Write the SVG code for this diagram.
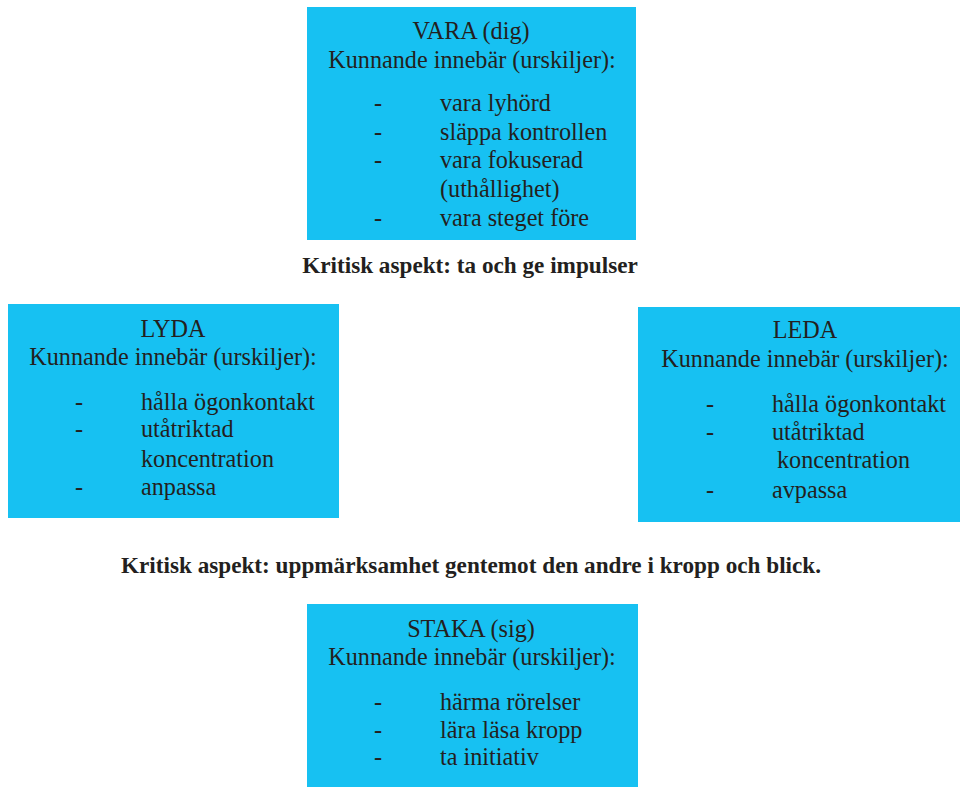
<svg xmlns="http://www.w3.org/2000/svg" width="960" height="787" viewBox="0 0 960 787">
<style>
.box{fill:#17c1f2}
text{font-family:"Liberation Serif","Times New Roman",serif;fill:#231f20}
.t{font-size:24.2px}
.c{text-anchor:middle}
.b{font-size:23.2px;font-weight:bold;text-anchor:middle}
</style>
<rect width="960" height="787" fill="#ffffff"/>
<g id="vara">
<rect class="box" x="307" y="7" width="329" height="233"/>
<text class="t c" x="471" y="39">VARA (dig)</text>
<text class="t c" x="472" y="68">Kunnande innebär (urskiljer):</text>
<text class="t" x="374" y="111">-</text><text class="t" x="440" y="111">vara lyhörd</text>
<text class="t" x="374" y="140">-</text><text class="t" x="440" y="140">släppa kontrollen</text>
<text class="t" x="374" y="168">-</text><text class="t" x="440" y="168">vara fokuserad</text>
<text class="t" x="440" y="197">(uthållighet)</text>
<text class="t" x="374" y="226">-</text><text class="t" x="440" y="226">vara steget före</text>
</g>
<g id="lyda">
<rect class="box" x="8" y="304" width="331" height="214"/>
<text class="t c" x="173" y="337">LYDA</text>
<text class="t c" x="173" y="365">Kunnande innebär (urskiljer):</text>
<text class="t" x="75" y="410">-</text><text class="t" x="141" y="410">hålla ögonkontakt</text>
<text class="t" x="75" y="437">-</text><text class="t" x="141" y="437">utåtriktad</text>
<text class="t" x="141" y="467">koncentration</text>
<text class="t" x="75" y="495">-</text><text class="t" x="141" y="495">anpassa</text>
</g>
<g id="leda">
<rect class="box" x="638" y="307" width="322" height="215"/>
<text class="t c" x="805" y="338">LEDA</text>
<text class="t c" x="805" y="367">Kunnande innebär (urskiljer):</text>
<text class="t" x="706" y="412">-</text><text class="t" x="772" y="412">hålla ögonkontakt</text>
<text class="t" x="706" y="440">-</text><text class="t" x="772" y="440">utåtriktad</text>
<text class="t" x="777" y="468">koncentration</text>
<text class="t" x="706" y="498">-</text><text class="t" x="772" y="498">avpassa</text>
</g>
<g id="staka">
<rect class="box" x="307" y="604" width="331" height="183"/>
<text class="t c" x="471" y="637">STAKA (sig)</text>
<text class="t c" x="472" y="665">Kunnande innebär (urskiljer):</text>
<text class="t" x="374" y="710">-</text><text class="t" x="440" y="710">härma rörelser</text>
<text class="t" x="374" y="738">-</text><text class="t" x="440" y="738">lära läsa kropp</text>
<text class="t" x="374" y="765">-</text><text class="t" x="440" y="765">ta initiativ</text>
</g>
<g id="aspect-1">
<text class="b" x="470" y="273">Kritisk aspekt: ta och ge impulser</text>
</g>
<g id="aspect-2">
<text class="b" x="471" y="573">Kritisk aspekt: uppmärksamhet gentemot den andre i kropp och blick.</text>
</g>
<g id="connectors"></g>
</svg>
